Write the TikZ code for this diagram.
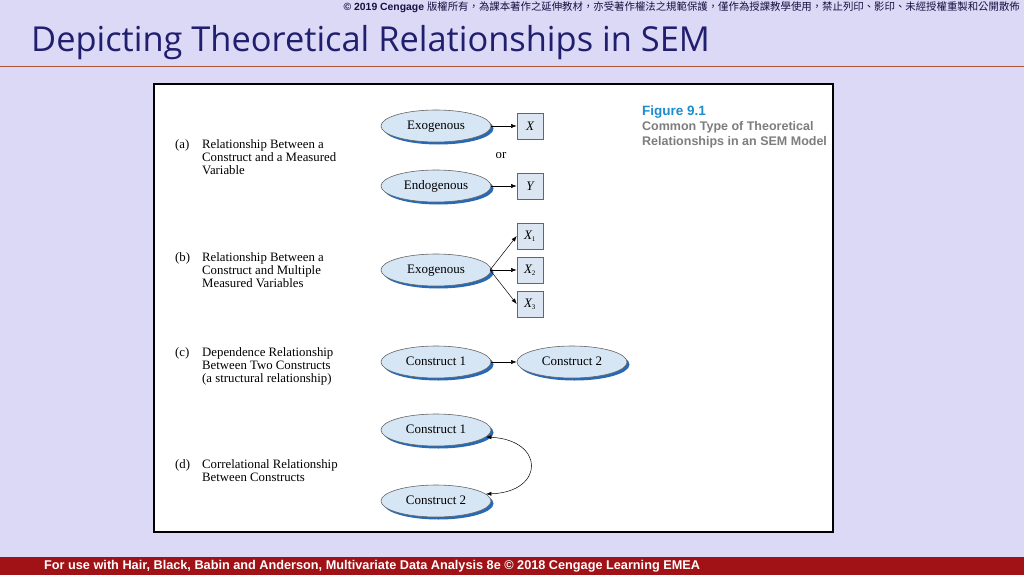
\documentclass[tikz,border=0pt]{standalone}
\usepackage{fontspec}
\setmainfont{Liberation Serif}
\newfontfamily\titlefont{Open Sans}
\newfontfamily\arialfont{Liberation Sans}
\newfontfamily\cjkfont{Noto Sans CJK TC}
\usetikzlibrary{shapes.geometric,shadows,arrows.meta}
\definecolor{bgcol}{RGB}{219,217,245}
\definecolor{titlecol}{RGB}{32,30,110}
\definecolor{rulecol}{RGB}{175,85,60}
\definecolor{barcol}{RGB}{160,18,22}
\definecolor{ellfill}{RGB}{214,230,245}
\definecolor{shadowblue}{RGB}{40,105,180}
\definecolor{boxfill}{RGB}{220,230,242}
\definecolor{capblue}{RGB}{30,140,205}
\definecolor{capgray}{RGB}{125,125,125}
\tikzset{
  construct/.style={ellipse, draw=black!60, line width=0.6pt, fill=ellfill,
    minimum width=110pt, minimum height=32pt, inner sep=0pt,
    text height=8.5pt, text depth=1pt,
    font=\fontsize{13}{14}\selectfont,
    drop shadow={shadow xshift=2.5pt, shadow yshift=-2.5pt, fill=shadowblue, opacity=1}},
  measured/.style={rectangle, draw=black!60, line width=0.6pt, fill=boxfill,
    minimum width=26pt, minimum height=26pt, inner sep=0pt,
    font=\fontsize{13}{14}\selectfont\itshape},
  conn/.style={line width=0.5pt, -{Latex[length=5.5pt,width=4pt]}},
  biconn/.style={line width=0.5pt, {Latex[length=5.5pt,width=4pt]}-{Latex[length=5.5pt,width=4pt]}},
  desc/.style={anchor=north west, inner sep=0pt, align=left, font=\fontsize{12.8}{13.2}\selectfont},
  capline/.style={anchor=north west, inner sep=0pt, font=\arialfont\bfseries\fontsize{12.5}{14}\selectfont},
}
\begin{document}
\begin{tikzpicture}[x=1pt,y=-1pt]
\useasboundingbox (0,0) rectangle (1024,575);
\fill[bgcol] (0,0) rectangle (1024,575);
% header
\node[anchor=north east, inner sep=0pt, text=titlecol!60!black] (copy) at (1020,1.5)
  {\fontsize{10.4}{11}\selectfont{\arialfont\bfseries © 2019 Cengage }\cjkfont 版權所有，為課本著作之延伸教材，亦受著作權法之規範保護，僅作為授課教學使用，禁止列印、影印、未經授權重製和公開散佈};
\node[anchor=base west, inner sep=0pt, text=titlecol] (title) at (31,52)
  {\titlefont\fontsize{34.4}{38}\selectfont Depicting Theoretical Relationships in SEM};
\draw[rulecol, line width=0.8pt] (0,66) -- (1024,66);
% footer
\fill[barcol] (0,557) rectangle (1024,575);
\node[anchor=base west, inner sep=0pt, text=white] (foot) at (44,569)
  {\arialfont\bfseries\fontsize{12.7}{14}\selectfont For use with Hair, Black, Babin and Anderson, Multivariate Data Analysis 8e © 2018 Cengage Learning EMEA};
% figure frame
\draw[fill=white, line width=1.6pt] (154,84) rectangle (833,532);
% caption
\node[capline, text=capblue, font=\arialfont\bfseries\fontsize{13.5}{15}\selectfont] (cap1) at (642,105.5) {Figure 9.1};
\node[capline, text=capgray] (cap2) at (642,121.5) {Common Type of Theoretical};
\node[capline, text=capgray] (cap3) at (642,136.5) {Relationships in an SEM Model};
% labels
\node[desc] (la) at (175,139) {(a)};
\node[desc] (ta) at (202,139) {Relationship Between a\\Construct and a Measured\\Variable};
\node[desc] (lb) at (175,252) {(b)};
\node[desc] (tb) at (202,252) {Relationship Between a\\Construct and Multiple\\Measured Variables};
\node[desc] (lc) at (175,347) {(c)};
\node[desc] (tc) at (202,347) {Dependence Relationship\\Between Two Constructs\\(a structural relationship)};
\node[desc] (ld) at (175,459) {(d)};
\node[desc] (td) at (202,459) {Correlational Relationship\\Between Constructs};
% (a)
\node[construct] (exa) at (436,126) {Exogenous};
\node[measured] (x) at (530,126) {X};
\node[font=\fontsize{12.8}{13}\selectfont, inner sep=0pt] (or) at (501,156) {or};
\node[construct] (ena) at (436,186) {Endogenous};
\node[measured] (y) at (530,186) {Y};
\draw[conn] (exa) -- (x);
\draw[conn] (ena) -- (y);
% (b)
\node[construct] (exb) at (436,270) {Exogenous};
\node[measured] (x1) at (530,236) {X\textsubscript{\upshape\scriptsize 1}};
\node[measured] (x2) at (530,270) {X\textsubscript{\upshape\scriptsize 2}};
\node[measured] (x3) at (530,304) {X\textsubscript{\upshape\scriptsize 3}};
\coordinate (exbe) at (490,270);
\draw[conn] (exbe) -- (x1.west);
\draw[conn] (exbe) -- (x2.west);
\draw[conn] (exbe) -- (x3.west);
% (c)
\node[construct] (c1c) at (436,362) {Construct 1};
\node[construct] (c2c) at (572,362) {Construct 2};
\draw[conn] (c1c) -- (c2c);
% (d)
\node[construct] (c1d) at (436,430) {Construct 1};
\node[construct] (c2d) at (436,501) {Construct 2};
\draw[biconn] (c1d.-8) .. controls (545,440) and (545,492) .. (c2d.8);
\end{tikzpicture}
\end{document}
